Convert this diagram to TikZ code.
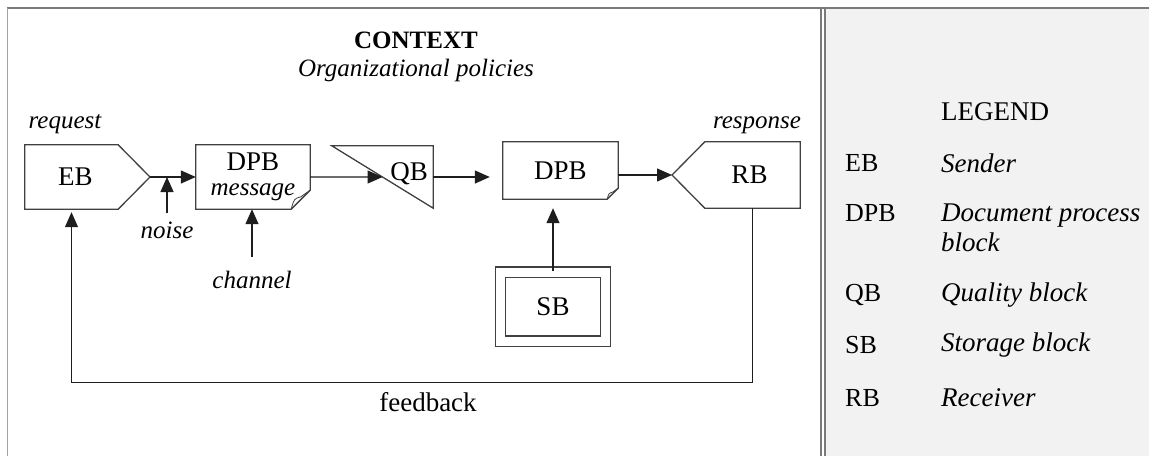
\documentclass[tikz,border=0pt]{standalone}
\usepackage{fontspec}
\setmainfont{Liberation Serif}
\usepackage{tikz}
\usetikzlibrary{arrows.meta, calc}

\definecolor{legendgray}{HTML}{F2F2F2}
\definecolor{framegray}{HTML}{7A7A7A}
\definecolor{boxgray}{HTML}{404040}
\definecolor{linegray}{HTML}{1E1E1E}

% page with a folded corner: #1 node name, #2 corner size
\newcommand{\foldedblock}[2]{%
  \draw[block] (#1.south west) -- (#1.north west) -- (#1.north east)
    -- ($(#1.south east)+(0,-#2)$) -- ($(#1.south east)+(-#2,0)$) -- cycle;
  \draw[block, line width=0.8pt] ($(#1.south east)+(-#2,0)$)
    .. controls ($(#1.south east)+(-0.85*#2,-0.55*#2)$) .. ($(#1.south east)+(-0.5*#2,-0.65*#2)$)
    -- ($(#1.south east)+(0,-#2)$);}

\begin{document}
\begin{tikzpicture}[
            x=1pt, y=-1pt, % pixel units, y runs downward
            every node/.style={font=\fontsize{27}{30}\selectfont, inner sep=0pt},
            note/.style={font=\fontsize{25}{30}\selectfont\itshape}, % italic labels
            block/.style={draw=boxgray, line width=1.3pt},
            flow/.style={draw=linegray, line width=1.3pt, -{Triangle[length=15pt, width=13pt]}}
            ]

        \useasboundingbox (0,0) rectangle (1149,456);

        % frame and legend panel
        \fill[legendgray] (826,8) rectangle (1149,456);
        \draw[framegray, line width=2pt] (7,8) -- (1149,8);
        \draw[framegray!70, line width=1pt] (7,8) -- (7,456);
        \draw[framegray, line width=1.2pt] (821,8) -- (821,456) (825,8) -- (825,456);

        % titles
        \node[font=\fontsize{25}{30}\selectfont\bfseries] (context) at (416,40) {CONTEXT};
        \node[note] (policies) at (416,70) {Organizational policies};

        % blocks
        \node[minimum width=93, minimum height=64] (eb) at (71.5,177) {\hspace*{8pt}EB};
        \coordinate (ebtip) at (150,177);
        \node[note] (request) at (65,124) {request};

        \node[minimum width=114, minimum height=64, align=center, font=\fontsize{27}{25}\selectfont] (dpb1) at (253,177) {DPB\\\fontsize{25}{25}\selectfont\itshape message};
        \node[minimum width=101, minimum height=62] (qb) at (382.5,177) {};
        \node[anchor=east] (qbtext) at ([xshift=-5pt, yshift=3pt]qb.east) {QB};
        \node[minimum width=115, minimum height=57] (dpb2) at (560.5,170.5) {DPB};

        \node[minimum width=95, minimum height=66] (rb) at (752.5,175) {RB\hspace*{6pt}};
        \coordinate (rbtip) at (672,175);
        \node[note] (response) at (757,125) {response};

        \node[draw=boxgray, line width=1.2pt, double, double distance=9pt,
              minimum width=105, minimum height=69] (sb) at (553,306.5) {SB};

        \node[note] (noise) at (167,230) {noise};
        \node[note] (channel) at (252,280) {channel};
        \node (feedback) at (428,402) {feedback};

        % outlines
        \draw[block] (eb.north west) -- (eb.north east) -- (ebtip) -- (eb.south east) -- (eb.south west) -- cycle;
        \draw[block] (rb.north east) -- (rb.north west) -- (rbtip) -- (rb.south west) -- (rb.south east) -- cycle;
        \draw[block] (qb.north west) -- (qb.north east) -- (qb.south east) -- cycle;
        \foldedblock{dpb1}{19}
        \foldedblock{dpb2}{11}

        % connectors
        \draw[flow] (ebtip) -- (dpb1.west);
        \draw[flow] ($(noise.north)+(0,-8)$) -- (noise.north |- ebtip);
        \draw[flow] ($(channel.north)+(0,-14)$) -- (channel.north |- dpb1.south);
        \draw[flow] (dpb1.east) -- ($(qb.north west)!0.5!(qb.south east)$);
        \draw[flow, shorten >=13pt] (qb.east) -- (qb.east -| dpb2.west);
        \draw[flow] (dpb2.east |- rbtip) -- (rbtip);
        \draw[flow, shorten >=9pt] (sb.north) -- (sb.north |- dpb2.south);
        \draw[flow, shorten >=3pt] (rb.south) -- ++(0,174) -| (eb.south);

        % legend
        \node (legend) at (995,112) {LEGEND};
        \foreach \abbr/\desc/\ya/\yb in {EB/Sender/163/163, DPB/{Document process\\block}/213/228,
                QB/Quality block/295/295, SB/Storage block/345/345, RB/Receiver/398/398} {
            \node[anchor=west, font=\fontsize{26}{30}\selectfont] (abbr-\abbr) at (845,\ya) {\abbr};
            \node[anchor=west, align=left, font=\fontsize{27}{30}\selectfont\itshape] (desc-\abbr) at (941,\yb) {\desc};
        }

\end{tikzpicture}
\end{document}
